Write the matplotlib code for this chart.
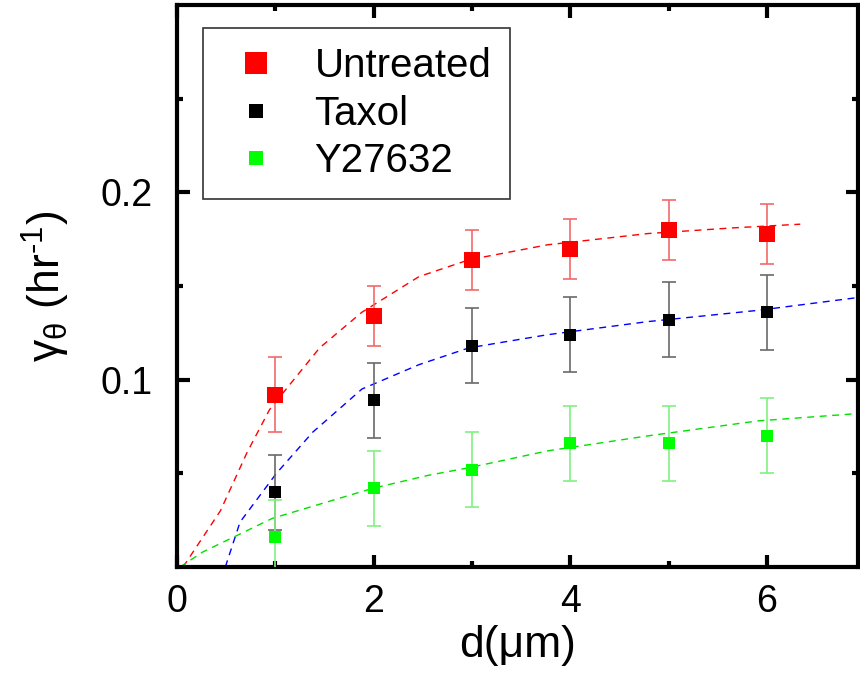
import numpy as np
import matplotlib
matplotlib.use('Agg')
import matplotlib.pyplot as plt
from matplotlib.ticker import MultipleLocator, FixedLocator
from matplotlib.lines import Line2D

plt.rcParams['font.family'] = ['Liberation Sans', 'DejaVu Sans']
plt.rcParams['mathtext.fontset'] = 'custom'
plt.rcParams['mathtext.rm'] = 'Liberation Sans'

# measured rates vs distance
d = [1, 2, 3, 4, 5, 6]
untreated = [0.092, 0.134, 0.164, 0.170, 0.180, 0.178]
untreated_err = [0.020, 0.016, 0.016, 0.016, 0.016, 0.016]
taxol = [0.040, 0.089, 0.118, 0.124, 0.132, 0.136]
taxol_err = [0.020, 0.020, 0.020, 0.020, 0.020, 0.020]
y27632 = [0.016, 0.042, 0.052, 0.066, 0.066, 0.070]
y27632_err = [0.020, 0.020, 0.020, 0.020, 0.020, 0.020]

# fitted curves (dashed)
fit_red_x = [0.06, 0.44, 0.71, 0.94, 1.14, 1.45, 1.88, 2.46, 2.97, 3.77, 4.79, 5.65, 6.34]
fit_red_y = [0.0, 0.030, 0.061, 0.084, 0.097, 0.117, 0.136, 0.155, 0.164, 0.172, 0.178, 0.181, 0.183]
fit_blue_x = [0.49, 0.64, 1.01, 1.38, 1.75, 1.88, 2.46, 2.97, 3.77, 4.79, 5.91, 6.95]
fit_blue_y = [0.0, 0.024, 0.050, 0.072, 0.089, 0.095, 0.108, 0.117, 0.124, 0.131, 0.137, 0.144]
fit_green_x = [0.03, 0.26, 0.97, 1.99, 2.56, 2.97, 3.77, 4.79, 5.91, 6.95]
fit_green_y = [0.0, 0.008, 0.026, 0.042, 0.049, 0.053, 0.062, 0.070, 0.078, 0.082]

fig = plt.figure(figsize=(8.6, 6.75), dpi=100)
ax = fig.add_axes([0.206, 0.16, 0.792, 0.8326])

dash = (0, (5, 4))
ax.plot(fit_red_x, fit_red_y, color='#ff0000', lw=1.0, ls=dash, zorder=2)
ax.plot(fit_blue_x, fit_blue_y, color='#0000ff', lw=1.0, ls=dash, zorder=2)
ax.plot(fit_green_x, fit_green_y, color='#00e000', lw=1.0, ls=dash, zorder=2)

ax.errorbar(d, untreated, yerr=untreated_err, fmt='none', ecolor='#f26a6a',
            elinewidth=1.2, capsize=5, capthick=1.2, zorder=3)
ax.errorbar(d, taxol, yerr=taxol_err, fmt='none', ecolor='#6a6a6a',
            elinewidth=1.2, capsize=5, capthick=1.2, zorder=3)
ax.errorbar(d, y27632, yerr=y27632_err, fmt='none', ecolor='#80f080',
            elinewidth=1.2, capsize=5, capthick=1.2, zorder=3)

ax.plot(d, untreated, 's', color='#ff0000', ms=11.5, mew=0, zorder=4)
ax.plot(d, taxol, 's', color='#000000', ms=8, mew=0, zorder=4)
ax.plot(d, y27632, 's', color='#00ff00', ms=8, mew=0, zorder=4)

ax.set_xlim(0, 6.93)
ax.set_ylim(0, 0.3)
ax.xaxis.set_major_locator(FixedLocator([0, 2, 4, 6]))
ax.xaxis.set_minor_locator(FixedLocator([1, 3, 5]))
ax.yaxis.set_major_locator(FixedLocator([0.1, 0.2]))
ax.yaxis.set_minor_locator(FixedLocator([0.05, 0.15, 0.25]))
ax.set_xticklabels(['0', '2', '4', '6'])
ax.set_yticklabels(['0.1', '0.2'])

for s in ax.spines.values():
    s.set_linewidth(3)
ax.tick_params(which='both', direction='in', top=True, right=True)
ax.tick_params(which='major', length=9, width=3, labelsize=27)
ax.tick_params(which='minor', length=4.5, width=3)
ax.tick_params(axis='x', which='major', pad=12)
ax.tick_params(axis='y', which='major', pad=18)

ax.set_xlabel('d(μm)', fontsize=32, labelpad=4)
ax.set_ylabel(r'γ$_\mathregular{θ}$ (hr$^{\text{-1}}$)', fontsize=32, labelpad=20)

handles = [Line2D([], [], ls='none', marker='s', color='#ff0000', ms=16, mew=0),
           Line2D([], [], ls='none', marker='s', color='#000000', ms=10, mew=0),
           Line2D([], [], ls='none', marker='s', color='#00ff00', ms=10, mew=0)]
leg = ax.legend(handles, ['Untreated', 'Taxol', 'Y27632'], loc='upper left',
                bbox_to_anchor=(0.038, 0.959), borderaxespad=0, fontsize=29,
                frameon=True, fancybox=False, edgecolor='black',
                handletextpad=0.6, labelspacing=0.24, borderpad=0.47,
                handlelength=1.7)
leg.get_frame().set_linewidth(1.2)

fig.savefig('out.png', dpi=100)
